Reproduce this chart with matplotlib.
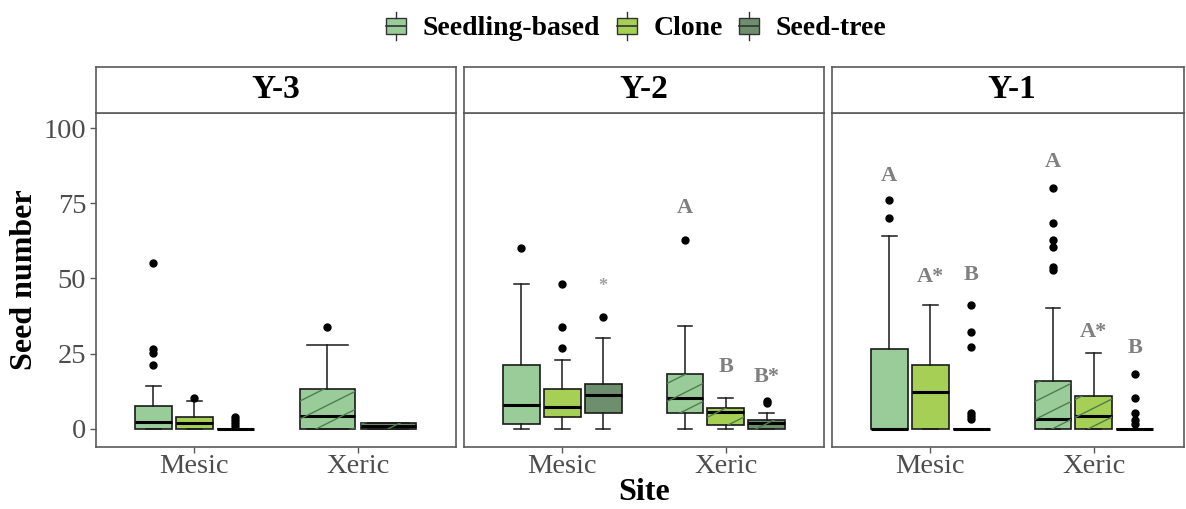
import matplotlib
matplotlib.use("Agg")
import matplotlib.pyplot as plt
import numpy as np
from matplotlib.legend_handler import HandlerBase
from matplotlib.patches import Rectangle
from matplotlib.lines import Line2D

plt.rcParams['font.family'] = ['Liberation Serif', 'DejaVu Serif']

years = ["Y-3", "Y-2", "Y-1"]
sites = ["Mesic", "Xeric"]
groups = ["Seedling-based", "Clone", "Seed-tree"]
colors = ["#99cc99", "#a6cf55", "#6e8f6e"]

# stats per year: [site][group], None = group missing
y3_med = [[2.4, 1.9, 0], [4.3, None, 1.0]]
y3_q1 = [[0, 0, 0], [0, None, 0]]
y3_q3 = [[7.6, 4.1, 0], [13.2, None, 2.0]]
y3_lo = [[0, 0, 0], [0, None, 0]]
y3_hi = [[14.2, 9.3, 0], [27.9, None, 2.0]]
y3_out = [[[55, 26.5, 25.4, 21.2], [10.2], [4, 3, 2, 1]], [[34], None, []]]

y2_med = [[7.8, 7.3, 11.3], [10.4, 5.6, 1.9]]
y2_q1 = [[1.7, 3.9, 5.2], [5.2, 1.2, 0]]
y2_q3 = [[21.3, 13.3, 15.0], [18.2, 7.1, 3.0]]
y2_lo = [[0, 0, 0], [0, 0, 0]]
y2_hi = [[48.3, 23.0, 30.1], [34.1, 10.2, 5.2]]
y2_out = [[[60.2], [48.3, 34, 27], [37.1]], [[62.9], [], [8.5, 9.2]]]

y1_med = [[0, 12.2, 0], [3.2, 4.3, 0]]
y1_q1 = [[0, 0, 0], [0, 0, 0]]
y1_q3 = [[26.6, 21.3, 0], [16.0, 11.1, 0]]
y1_lo = [[0, 0, 0], [0, 0, 0]]
y1_hi = [[64.2, 41.2, 0], [40.3, 25.1, 0]]
y1_out = [[[76, 70], [], [41.2, 32.3, 27.1, 5.2, 4.2, 3.4]],
          [[80.2, 68.3, 62.8, 60.4, 53.9, 52.8], [], [18.2, 10.2, 5.4, 3, 1.7]]]

# significance letters: (site, group, text, y)
y3_letters = []
y2_letters = [(0, 2, "*", 47.4), (1, 0, "A", 73.5), (1, 1, "B", 20.5), (1, 2, "B*", 17.4)]
y1_letters = [(0, 0, "A", 84), (0, 1, "A*", 50.6), (0, 2, "B", 51),
              (1, 0, "A", 88.8), (1, 1, "A*", 32.3), (1, 2, "B", 26.8)]

all_stats = [
    (y3_med, y3_q1, y3_q3, y3_lo, y3_hi, y3_out, y3_letters),
    (y2_med, y2_q1, y2_q3, y2_lo, y2_hi, y2_out, y2_letters),
    (y1_med, y1_q1, y1_q3, y1_lo, y1_hi, y1_out, y1_letters),
]

W, H = 1186, 509
fig = plt.figure(figsize=(W / 100, H / 100), dpi=100)

panel_left = [96, 464, 832]
panel_w = [360, 360, 352]   # last panel is cut by the figure edge
ax_bottom, ax_top = 447, 113
strip_top = 67
grey = "#5a5a5a"
px_per_unit = 360 / 2.2


def add_stripes(ax, patch, pw):
    # diagonal stripe pattern clipped to the box
    slope = 0.5 * pw / (ax_bottom - ax_top)
    step = 18 / (ax_bottom - ax_top)
    for c in np.arange(-2, 1.5, step):
        ln = Line2D([0, 1], [c, c + slope], transform=ax.transAxes,
                    color="#4e7d4e", lw=1.0, zorder=2.5)
        ax.add_line(ln)
        ln.set_clip_path(patch)


axes = []
for p, (yr, st) in enumerate(zip(years, all_stats)):
    med, q1, q3, lo, hi, out, letters = st
    l = panel_left[p]
    pw = panel_w[p]
    ax = fig.add_axes([l / W, (H - ax_bottom) / H, pw / W, (ax_bottom - ax_top) / H])
    axes.append(ax)
    for s in range(2):
        present = [g for g in range(3) if med[s][g] is not None]
        n = len(present)
        dw = 0.75 / n
        centers = {}
        for k, g in enumerate(present):
            pos = s + 1 + (k - (n - 1) / 2) * dw
            centers[g] = pos
            stats = [dict(med=med[s][g], q1=q1[s][g], q3=q3[s][g],
                          whislo=lo[s][g], whishi=hi[s][g], fliers=out[s][g] or [])]
            capw = 0.09 if n == 3 else 0.25
            bp = ax.bxp(stats, positions=[pos], widths=dw * 0.9, patch_artist=True,
                        capwidths=[capw], manage_ticks=False,
                        boxprops=dict(facecolor=colors[g], edgecolor="#1a1a1a", lw=1.2),
                        medianprops=dict(color="black", lw=2.2),
                        whiskerprops=dict(color="#1a1a1a", lw=1.1),
                        capprops=dict(color="#1a1a1a", lw=1.1),
                        flierprops=dict(marker="o", markerfacecolor="black",
                                        markeredgecolor="black", markersize=5))
            if s == 1:
                add_stripes(ax, bp["boxes"][0], pw)
        for (ls, lg, txt, ly) in letters:
            if ls == s:
                fs = 13 if txt == "*" else 16
                col = "#a0a0a0" if txt == "*" else "#808080"
                ax.text(centers[lg], ly, txt, ha="center", va="center", fontsize=fs,
                        fontweight="bold", color=col)

    ax.set_xlim(0.4, 0.4 + pw / px_per_unit)
    ax.set_ylim(-6, 105)
    ax.set_xticks([1, 2])
    ax.set_xticklabels(sites, fontsize=20.5, color="#4d4d4d")
    ax.set_yticks([0, 25, 50, 75, 100])
    ax.tick_params(color=grey, length=4, width=1)
    ax.tick_params(axis="x", pad=1)
    ax.tick_params(axis="y", pad=3)
    if p == 0:
        ax.set_yticklabels(["0", "25", "50", "75", "100"], fontsize=20.5, color="#4d4d4d")
        ax.set_ylabel("Seed number", fontsize=23, fontweight="bold", labelpad=3)
    else:
        ax.set_yticklabels([])
        ax.tick_params(axis="y", length=0)
    for sp in ax.spines.values():
        sp.set_color(grey)
        sp.set_linewidth(1.2)

    # facet strip
    sax = fig.add_axes([l / W, (H - ax_top) / H, pw / W, (ax_top - strip_top) / H])
    sax.set_xticks([])
    sax.set_yticks([])
    for sp in sax.spines.values():
        sp.set_color(grey)
        sp.set_linewidth(1.2)
    sax.text(180 / pw, 0.5, yr, ha="center", va="center", fontsize=24, fontweight="bold",
             transform=sax.transAxes)

# x axis title under middle panel
fig.text((464 + 180) / W, 1 - 493 / H, "Site", ha="center", va="center",
         fontsize=23, fontweight="bold")


class HandlerBox(HandlerBase):
    def create_artists(self, legend, orig_handle, xdescent, ydescent, width, height,
                       fontsize, trans):
        fc = orig_handle.get_facecolor()
        bw = width * 0.8
        x0 = (width - bw) / 2 - xdescent
        y0 = -ydescent
        rect = Rectangle((x0, y0 + height * 0.05), bw, height * 0.8, facecolor=fc,
                         edgecolor="#333333", lw=1, transform=trans)
        mid = Line2D([x0, x0 + bw], [y0 + height * 0.45] * 2, color="#333333", lw=1.2,
                     transform=trans)
        xc = x0 + bw / 2
        w1 = Line2D([xc, xc], [y0 + height * 0.85, y0 + height * 1.15], color="#333333",
                    lw=1, transform=trans)
        w2 = Line2D([xc, xc], [y0 - height * 0.25, y0 + height * 0.05], color="#333333",
                    lw=1, transform=trans)
        return [rect, mid, w1, w2]


handles = [Rectangle((0, 0), 1, 1, facecolor=c) for c in colors]
fig.legend(handles, groups, loc="center", bbox_to_anchor=(635 / W, 1 - 28 / H), ncol=3,
           frameon=False, handler_map={Rectangle: HandlerBox()},
           prop=dict(size=20, weight="bold"), handlelength=0.9, handletextpad=0.5,
           columnspacing=0.5)

fig.savefig("out.png", dpi=100)
